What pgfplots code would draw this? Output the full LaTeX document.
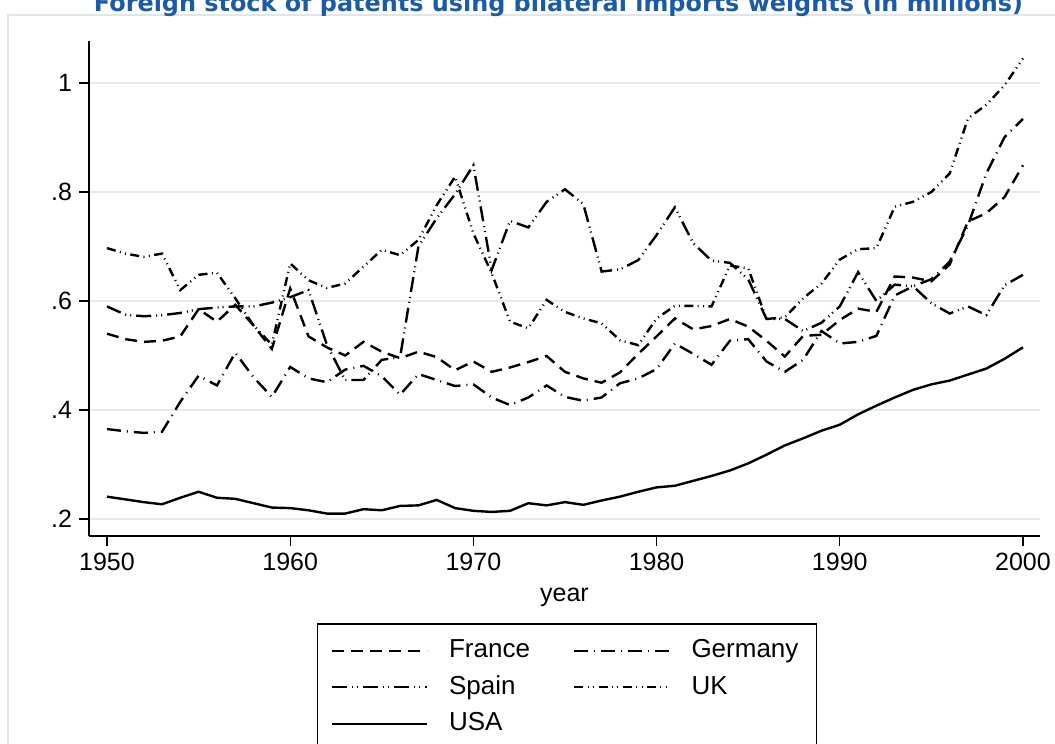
\documentclass[border=0pt]{standalone}
\usepackage{fontspec}
\setmainfont{Liberation Sans}
\newfontfamily\titlefont{DejaVu Sans}
\usepackage{pgfplots}
\usepackage{pgfplotstable}
\pgfplotsset{compat=1.18}
\definecolor{titleblue}{RGB}{26,90,166}
\definecolor{gridc}{RGB}{228,235,240}
\definecolor{framec}{RGB}{222,230,236}

\pgfplotstableread{
year france germany spain uk usa
1950 .540 .365 .590 .697 .241
1951 .530 .361 .575 .687 .236
1952 .525 .358 .572 .681 .231
1953 .527 .360 .574 .687 .227
1954 .535 .415 .578 .620 .239
1955 .585 .463 .585 .648 .250
1956 .562 .445 .588 .652 .239
1957 .593 .505 .590 .605 .237
1958 .555 .460 .590 .555 .229
1959 .512 .424 .597 .520 .221
1960 .623 .479 .607 .669 .220
1961 .535 .458 .620 .638 .216
1962 .515 .451 .520 .624 .210
1963 .500 .474 .455 .632 .210
1964 .525 .481 .455 .663 .218
1965 .507 .462 .492 .694 .216
1966 .495 .428 .497 .684 .224
1967 .507 .466 .700 .712 .225
1968 .497 .455 .752 .776 .235
1969 .473 .444 .796 .828 .220
1970 .489 .447 .849 .724 .215
1971 .470 .423 .657 .651 .213
1972 .478 .409 .747 .562 .215
1973 .488 .423 .735 .550 .229
1974 .499 .445 .782 .602 .225
1975 .470 .424 .805 .580 .231
1976 .458 .417 .778 .568 .226
1977 .450 .423 .654 .559 .234
1978 .469 .449 .658 .528 .241
1979 .503 .458 .675 .519 .250
1980 .535 .475 .721 .568 .258
1981 .568 .522 .772 .591 .261
1982 .548 .503 .706 .591 .270
1983 .554 .483 .674 .590 .279
1984 .567 .527 .670 .665 .289
1985 .553 .530 .640 .660 .302
1986 .527 .489 .567 .567 .318
1987 .498 .470 .567 .570 .335
1988 .536 .492 .545 .605 .348
1989 .538 .545 .560 .632 .362
1990 .565 .522 .590 .676 .373
1991 .586 .525 .653 .695 .392
1992 .580 .536 .600 .697 .408
1993 .645 .610 .630 .773 .423
1994 .643 .627 .627 .782 .437
1995 .636 .640 .596 .800 .447
1996 .667 .672 .577 .834 .454
1997 .746 .739 .590 .935 .465
1998 .761 .834 .574 .960 .476
1999 .791 .901 .629 .996 .494
2000 .849 .934 .648 1.045 .515
}\datatable

\begin{document}
\begin{tikzpicture}
\draw[framec, line width=0.8pt] (-40.5pt,-120pt) -- (-40.5pt,260.5pt) -- (500pt,260.5pt);
\begin{axis}[
  at={(0,0)}, anchor=south west,
  scale only axis, width=475.5pt, height=247.5pt,
  xmin=1949.017, xmax=2000.93, ymin=0.16881, ymax=1.07706,
  axis x line*=bottom, axis y line*=left,
  axis line style={-, line width=0.65pt, black},
  xtick={1950,1960,1970,1980,1990,2000},
  xticklabels={1950,1960,1970,1980,1990,2000},
  ytick={0.2,0.4,0.6,0.8,1},
  yticklabels={.2,.4,.6,.8,1},
  tick align=outside, major tick length=5pt,
  tick style={line width=0.65pt, black},
  ymajorgrids, major grid style={gridc, line width=1pt},
  tick label style={font=\fontsize{12.5}{14}\selectfont},
  xlabel={year},
  xlabel style={font=\fontsize{12.5}{14}\selectfont, at={(axis description cs:0.5,-0.1333)}, anchor=base},
  legend columns=2,
  legend image code/.code={\draw[#1] (0pt,0pt) -- (47.5pt,0pt);},
  legend style={at={(axis description cs:0.2397,-0.1758)}, anchor=north west,
    draw=black, line width=0.75pt, inner xsep=6.5pt, inner ysep=7pt,
    font=\fontsize{13}{15}\selectfont,
    nodes={inner sep=0pt, text height=10pt, text depth=3pt},
    column sep=0pt, row sep=5.25pt,
    /tikz/every odd column/.append style={column sep=10.5pt},
    /tikz/every even column/.append style={column sep=0pt}},
  legend cell align=left,
]
\addplot[black, line width=1.2pt, dash pattern=on 6pt off 3.5pt] table[x=year,y=france] {\datatable};
\addlegendentry{\makebox[62pt][l]{France}}
\addplot[black, line width=1.2pt, dash pattern=on 7pt off 3pt on 0.5pt off 3pt] table[x=year,y=germany] {\datatable};
\addlegendentry{\makebox[56pt][l]{Germany}}
\addplot[black, line width=1.2pt, dash pattern=on 7.5pt off 2.5pt on 0.5pt off 2pt on 0.5pt off 2.5pt] table[x=year,y=spain] {\datatable};
\addlegendentry{\makebox[62pt][l]{Spain}}
\addplot[black, line width=1.2pt, dash pattern=on 4.5pt off 2.2pt on 0.5pt off 2.2pt on 0.5pt off 2.2pt] table[x=year,y=uk] {\datatable};
\addlegendentry{\makebox[56pt][l]{UK}}
\addplot[black, line width=1.2pt] table[x=year,y=usa] {\datatable};
\addlegendentry{\makebox[62pt][l]{USA}}
\end{axis}
\node[anchor=base, text=titleblue, inner sep=0pt] at (234.75pt,262pt) {\resizebox{464.5pt}{!}{\titlefont\bfseries Foreign stock of patents using bilateral imports weights (in millions)}};
\pgfresetboundingbox
\path (-44.5pt,-104pt) rectangle (483pt,268pt);
\end{tikzpicture}
\end{document}
